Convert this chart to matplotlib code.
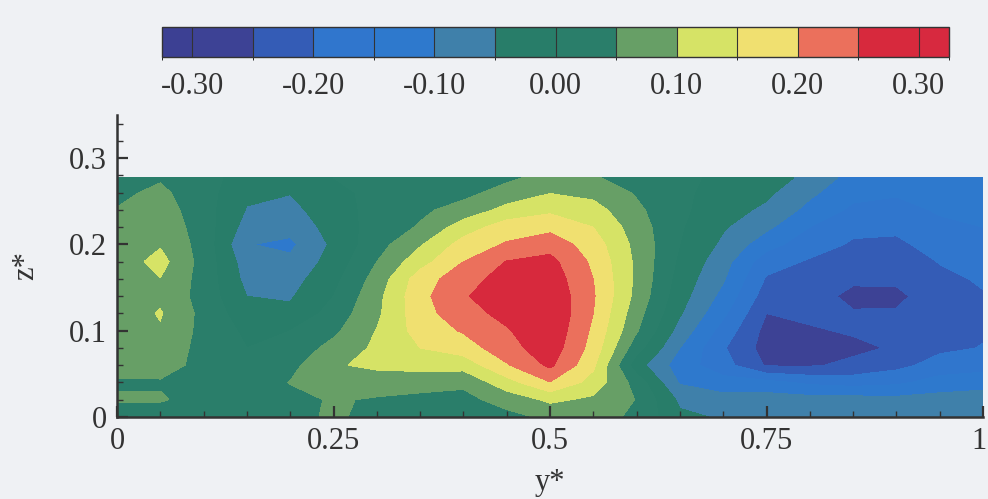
import numpy as np
import matplotlib
matplotlib.use('Agg')
import matplotlib.pyplot as plt
from matplotlib.colors import ListedColormap, BoundaryNorm
from matplotlib.ticker import FixedLocator, MultipleLocator
from matplotlib.transforms import ScaledTranslation

plt.rcParams['font.family'] = ['Liberation Serif', 'DejaVu Serif']
plt.rcParams['axes.unicode_minus'] = False

# measurement grid (spanwise stations y*, heights z*)
y_stations = [0.00, 0.05, 0.10, 0.15, 0.20, 0.25, 0.30, 0.35, 0.40, 0.45, 0.50,
              0.55, 0.60, 0.65, 0.70, 0.75, 0.80, 0.85, 0.90, 0.95, 1.00]
z_heights = [0.00, 0.02, 0.04, 0.06, 0.08, 0.10, 0.12, 0.14, 0.16, 0.18, 0.20,
             0.22, 0.24, 0.26, 0.277]

# one vertical profile per y station
w_profiles = [
    [0.02, 0.055, 0.045, 0.065, 0.07, 0.07, 0.07, 0.07, 0.07, 0.07, 0.07, 0.065, 0.052, 0.04, 0.03],
    [0.02, 0.055, 0.045, 0.07, 0.08, 0.095, 0.104, 0.09, 0.099, 0.118, 0.095, 0.085, 0.075, 0.06, 0.045],
    [0.02, 0.03, 0.03, 0.035, 0.035, 0.035, 0.035, 0.03, 0.03, 0.03, 0.03, 0.025, 0.02, 0.02, 0.02],
    [0.02, 0.02, 0.02, 0.01, 0.0, -0.01, -0.03, -0.05, -0.065, -0.075, -0.098, -0.07, -0.053, -0.04, -0.025],
    [0.03, 0.035, 0.052, 0.035, 0.02, 0.0, -0.04, -0.055, -0.07, -0.09, -0.11, -0.085, -0.065, -0.048, -0.035],
    [0.06, 0.055, 0.07, 0.095, 0.065, 0.04, 0.02, 0.0, -0.015, -0.03, -0.04, -0.03, -0.02, -0.01, 0.0],
    [0.03, 0.045, 0.075, 0.11, 0.11, 0.102, 0.09, 0.085, 0.07, 0.05, 0.03, 0.02, 0.015, 0.01, 0.01],
    [0.025, 0.04, 0.065, 0.12, 0.15, 0.17, 0.18, 0.185, 0.175, 0.13, 0.095, 0.055, 0.04, 0.03, 0.02],
    [0.02, 0.035, 0.06, 0.12, 0.175, 0.205, 0.23, 0.245, 0.23, 0.20, 0.17, 0.125, 0.07, 0.035, 0.025],
    [0.035, 0.07, 0.13, 0.195, 0.23, 0.245, 0.265, 0.28, 0.27, 0.252, 0.205, 0.175, 0.115, 0.07, 0.04],
    [0.06, 0.11, 0.198, 0.26, 0.28, 0.29, 0.295, 0.29, 0.28, 0.265, 0.23, 0.185, 0.14, 0.098, 0.07],
    [0.07, 0.09, 0.13, 0.16, 0.18, 0.19, 0.20, 0.205, 0.20, 0.19, 0.175, 0.15, 0.12, 0.085, 0.055],
    [0.04, 0.048, 0.03, -0.03, 0.02, 0.055, 0.07, 0.085, 0.09, 0.09, 0.085, 0.075, 0.06, 0.045, 0.03],
    [-0.04, -0.06, -0.105, -0.125, -0.10, -0.07, -0.045, -0.03, -0.02, -0.01, 0.0, 0.005, 0.01, 0.01, 0.01],
    [-0.055, -0.08, -0.13, -0.18, -0.195, -0.17, -0.14, -0.115, -0.095, -0.08, -0.06, -0.045, -0.03, -0.02, -0.01],
    [-0.055, -0.075, -0.135, -0.255, -0.27, -0.265, -0.25, -0.225, -0.205, -0.18, -0.13, -0.09, -0.06, -0.04, -0.025],
    [-0.055, -0.08, -0.16, -0.255, -0.27, -0.255, -0.24, -0.225, -0.215, -0.205, -0.18, -0.15, -0.115, -0.09, -0.065],
    [-0.055, -0.08, -0.17, -0.24, -0.26, -0.245, -0.245, -0.265, -0.24, -0.22, -0.205, -0.19, -0.16, -0.135, -0.12],
    [-0.055, -0.085, -0.16, -0.215, -0.245, -0.24, -0.245, -0.262, -0.24, -0.225, -0.21, -0.19, -0.165, -0.145, -0.13],
    [-0.055, -0.08, -0.13, -0.18, -0.21, -0.22, -0.225, -0.22, -0.21, -0.198, -0.18, -0.16, -0.145, -0.13, -0.12],
    [-0.055, -0.075, -0.12, -0.17, -0.198, -0.205, -0.207, -0.203, -0.195, -0.18, -0.165, -0.15, -0.135, -0.125, -0.115],
]

levels = [-0.325, -0.30, -0.25, -0.20, -0.15, -0.10, -0.05, 0.0,
          0.05, 0.10, 0.15, 0.20, 0.25, 0.30, 0.325]
band_colors = ['#3c4093', '#3d4295', '#345cb6', '#3076cd', '#2e79cd', '#3f80aa', '#287d69',
               '#2a7e6a', '#679f66', '#d6e366', '#f0e070', '#eb705c', '#d7293d', '#d7293f']
cbar_ticks = [-0.30, -0.20, -0.10, 0.00, 0.10, 0.20, 0.30]
x_ticks = [0, 0.25, 0.5, 0.75, 1]
x_labels = ['0', '0.25', '0.5', '0.75', '1']
z_ticks = [0, 0.1, 0.2, 0.3]
z_labels = ['0', '0.1', '0.2', '0.3']

bg = '#eff1f4'
ink = '#333333'
fsize = 22

fig = plt.figure(figsize=(9.88, 4.99), dpi=100, facecolor=bg)
ax = fig.add_axes([117 / 988, 1 - 417 / 499, 866 / 988, 302 / 499])
ax.set_facecolor(bg)

Y, Z = np.meshgrid(y_stations, z_heights)
W = np.array(w_profiles).T
cmap = ListedColormap(band_colors)
norm = BoundaryNorm(levels, cmap.N)
cs = ax.contourf(Y, Z, W, levels=levels, cmap=cmap, norm=norm)

ax.set_xlim(0, 1)
ax.set_ylim(0, 0.35)
for side in ['top', 'right']:
    ax.spines[side].set_visible(False)
for side in ['left', 'bottom']:
    ax.spines[side].set_linewidth(1.8)
    ax.spines[side].set_color(ink)
    ax.spines[side].set_zorder(5)

ax.xaxis.set_major_locator(FixedLocator(x_ticks))
ax.set_xticklabels(x_labels)
ax.yaxis.set_major_locator(FixedLocator(z_ticks))
ax.set_yticklabels(z_labels)
ax.xaxis.set_minor_locator(MultipleLocator(0.05))
ax.yaxis.set_minor_locator(MultipleLocator(0.02))
ax.tick_params(which='major', direction='in', length=8, width=1.6, color=ink,
               labelsize=fsize, labelcolor=ink, pad=7)
ax.tick_params(which='minor', direction='in', length=4, width=1.0, color=ink)
ax.set_xlabel('y*', fontsize=fsize, color=ink, labelpad=9)
ax.set_ylabel('z*', fontsize=fsize, color=ink, labelpad=21)

# keep the last x label inside the figure edge
last = ax.get_xticklabels()[-1]
last.set_transform(last.get_transform() + ScaledTranslation(-4 / 100, 0, fig.dpi_scale_trans))

cax = fig.add_axes([162 / 988, 1 - 57 / 499, 787 / 988, 30 / 499])
cb = fig.colorbar(cs, cax=cax, orientation='horizontal', drawedges=True,
                  spacing='proportional', ticks=cbar_ticks)
cb.set_ticklabels(['%.2f' % t for t in cbar_ticks])
cb.ax.tick_params(length=0, pad=11, labelsize=fsize, labelcolor=ink)
cb.outline.set_edgecolor(ink)
cb.outline.set_linewidth(1.0)
cb.dividers.set_color(ink)
cb.dividers.set_linewidth(0.8)

fig.savefig('out.png', dpi=100, facecolor=bg)
